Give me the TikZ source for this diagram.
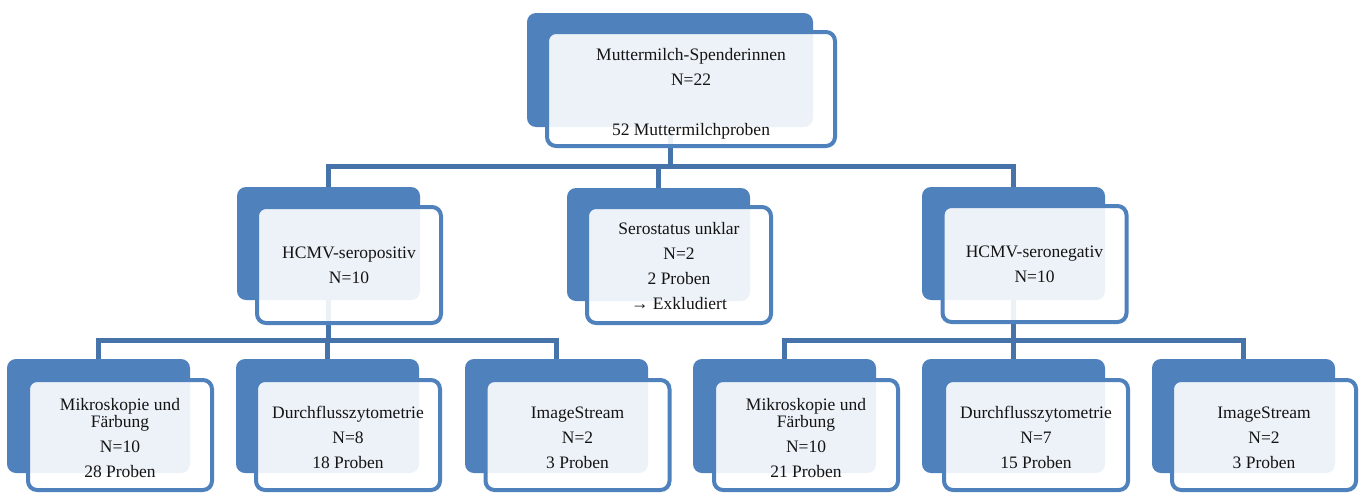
\documentclass[tikz,border=0pt]{standalone}
\usepackage{fontspec}
\setmainfont{Liberation Serif}
\definecolor{accent}{RGB}{79,129,189}
\definecolor{connc}{RGB}{70,116,170}
\definecolor{txt}{RGB}{20,20,20}
\pgfdeclarelayer{bg}
\pgfsetlayers{bg,main}
\tikzset{
  backbox/.style={rectangle, rounded corners=9pt, fill=accent, inner sep=0pt,
    minimum width=183pt, minimum height=114pt},
  frontbox/.style={rectangle, rounded corners=9pt, draw=accent, line width=4pt,
    fill=white, fill opacity=0.9, inner sep=0pt,
    minimum width=184pt, minimum height=112pt},
  boxtext/.style={align=center, text=txt, inner sep=0pt,
    font=\fontsize{17.5}{25}\selectfont},
  conn/.style={draw=connc, line width=5pt, line join=miter},
}
\begin{document}
\begin{tikzpicture}[x=1pt,y=-1pt]
\useasboundingbox (0,0) rectangle (1359,493);
% back boxes
\node[backbox, minimum width=286pt] (topB) at (670,70) {};
\node[backbox, minimum height=113pt] (posB) at (328.5,243.5) {};
\node[backbox, minimum height=113pt] (unkB) at (658.5,244.5) {};
\node[backbox, minimum height=113pt] (negB) at (1013.5,243.5) {};
\node[backbox] (mpB) at (98.5,416) {};
\node[backbox] (dpB) at (327.5,416) {};
\node[backbox] (ipB) at (556.5,416) {};
\node[backbox] (mnB) at (784.5,416) {};
\node[backbox] (dnB) at (1013.5,416) {};
\node[backbox] (inB) at (1243.5,416) {};
% bus coordinates
\coordinate (bus1) at (670,166);
\coordinate (bus2) at (328,340);
\coordinate (bus3) at (1013,340);
% connectors (behind the boxes)
\begin{pgfonlayer}{bg}
\path[conn] (topB.center) -- (topB.center |- bus1);
\path[conn] (posB.north) |- (bus1) -| (negB.north);
\path[conn] (unkB.north) -- (unkB.north |- bus1);
\path[conn] (posB.center) -- (posB.center |- bus2);
\path[conn] (mpB.north) |- (bus2) -| (ipB.north);
\path[conn] (dpB.north) -- (dpB.north |- bus2);
\path[conn] (negB.center) -- (negB.center |- bus3);
\path[conn] (mnB.north) |- (bus3) -| (inB.north);
\path[conn] (dnB.north) -- (dnB.north |- bus3);
\end{pgfonlayer}
% front boxes
\node[frontbox, minimum width=288pt, minimum height=114pt] (topF) at (691,89) {};
\node[frontbox, minimum height=116pt] (posF) at (349,265) {};
\node[frontbox, minimum height=116pt] (unkF) at (679,265) {};
\node[frontbox, minimum height=116pt] (negF) at (1034.5,264) {};
\node[frontbox, minimum height=110pt] (mpF) at (120,435) {};
\node[frontbox, minimum height=110pt] (dpF) at (348,435) {};
\node[frontbox, minimum height=110pt] (ipF) at (577.5,435) {};
\node[frontbox, minimum height=110pt] (mnF) at (806,435) {};
\node[frontbox, minimum height=110pt] (dnF) at (1036,435) {};
\node[frontbox, minimum height=110pt] (inF) at (1264,435) {};
% texts
\node[boxtext] (topT) at ([yshift=-4.5pt]topF.center)
  {Muttermilch-Spenderinnen\\N=22\\[25pt]52 Muttermilchproben};
\node[boxtext] (posT) at (posF.center) {HCMV-seropositiv\\N=10};
\node[boxtext] (unkT) at ([yshift=-1pt]unkF.center)
  {Serostatus unklar\\N=2\\2 Proben\\→ Exkludiert};
\node[boxtext] (negT) at (negF.center) {HCMV-seronegativ\\N=10};
\node[boxtext] (mpT) at ([yshift=-3pt]mpF.center)
  {Mikroskopie und\\[-8pt]Färbung\\N=10\\28 Proben};
\node[boxtext] (dpT) at ([yshift=-2.5pt]dpF.center) {Durchflusszytometrie\\N=8\\18 Proben};
\node[boxtext] (ipT) at ([yshift=-3pt]ipF.center) {ImageStream\\N=2\\3 Proben};
\node[boxtext] (mnT) at ([yshift=-3pt]mnF.center)
  {Mikroskopie und\\[-8pt]Färbung\\N=10\\21 Proben};
\node[boxtext] (dnT) at ([yshift=-2.5pt]dnF.center) {Durchflusszytometrie\\N=7\\15 Proben};
\node[boxtext] (inT) at ([yshift=-3pt]inF.center) {ImageStream\\N=2\\3 Proben};
\end{tikzpicture}
\end{document}
